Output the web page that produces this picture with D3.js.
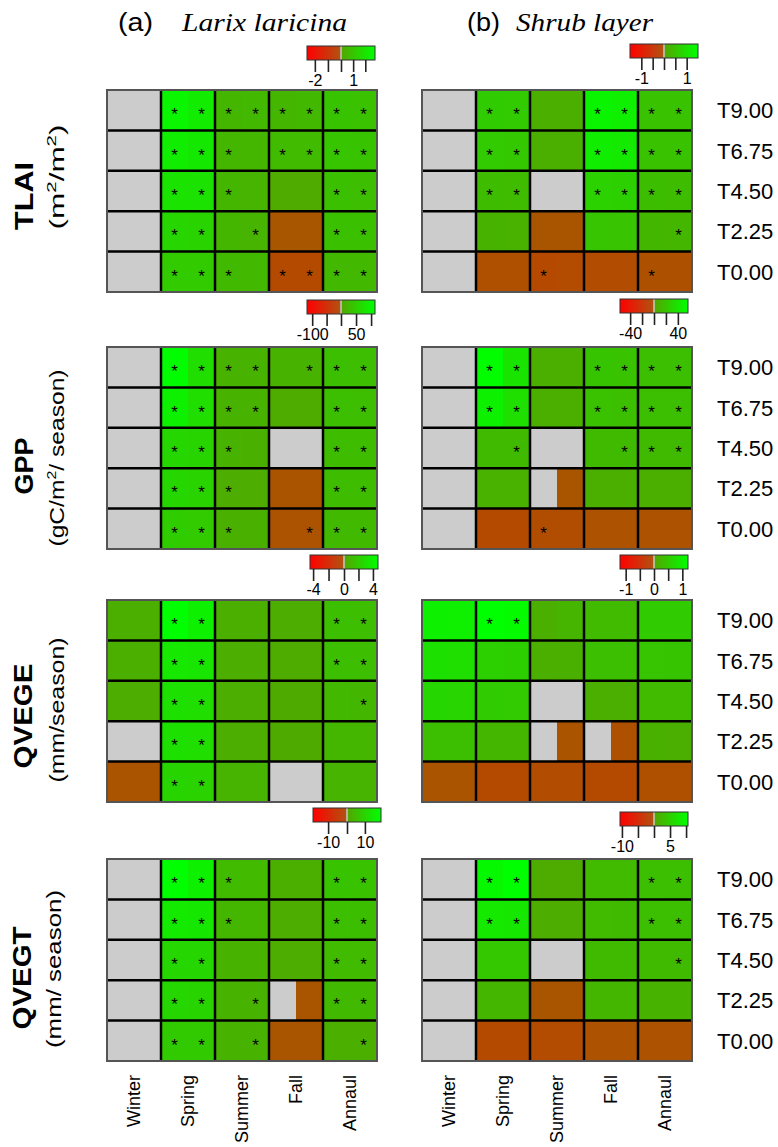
<!DOCTYPE html>
<html>
<head>
<meta charset="utf-8">
<script src="https://cdn.jsdelivr.net/npm/d3@7"></script>
<style>
  body { margin: 0; background: #fff; }
  text { font-family: "Liberation Sans", Arial, sans-serif; }
</style>
</head>
<body>
<div id="chart"></div>
<script>
var N = null;

var seasons = ["Winter", "Spring", "Summer", "Fall", "Annaul"];
var treatments = ["T9.00", "T6.75", "T4.50", "T2.25", "T0.00"];

// each row = one treatment, 10 values = 2 sub-cells per season
var tlaiLarix = [
  [N, N, 2.5, 2.2, 0.55, 0.6, 0.55, 0.6, 0.95, 0.9],
  [N, N, 2.25, 2.1, 0.55, 0.55, 0.7, 0.7, 1.0, 0.95],
  [N, N, 1.95, 1.9, 0.55, 0.5, 0.2, 0.2, 0.85, 0.8],
  [N, N, 1.5, 1.45, 0.55, 0.5, -0.05, -0.05, 0.85, 0.85],
  [N, N, 1.2, 1.2, 0.65, 0.6, -0.4, -0.4, 0.6, 0.6]
];
var tlaiLarixSig = [
  [0, 0, 1, 1, 1, 1, 1, 1, 1, 1],
  [0, 0, 1, 1, 1, 0, 1, 1, 1, 1],
  [0, 0, 1, 1, 1, 0, 0, 0, 1, 1],
  [0, 0, 1, 1, 0, 1, 0, 0, 1, 1],
  [0, 0, 1, 1, 1, 0, 1, 1, 1, 1]
];
var tlaiShrub = [
  [N, N, 0.65, 0.62, 0.18, 0.18, 1.32, 1.25, 0.5, 0.5],
  [N, N, 0.62, 0.6, 0.18, 0.2, 1.2, 1.15, 0.5, 0.5],
  [N, N, 0.4, 0.38, N, N, 0.75, 0.72, 0.42, 0.4],
  [N, N, 0.25, 0.22, -0.05, -0.05, 0.55, 0.52, 0.32, 0.3],
  [N, N, -0.15, -0.15, -0.25, -0.22, -0.2, -0.2, -0.12, -0.12]
];
var tlaiShrubSig = [
  [0, 0, 1, 1, 0, 0, 1, 1, 1, 1],
  [0, 0, 1, 1, 0, 0, 1, 1, 1, 1],
  [0, 0, 1, 1, 0, 0, 1, 1, 1, 1],
  [0, 0, 0, 0, 0, 0, 0, 0, 0, 1],
  [0, 0, 0, 0, 1, 0, 0, 0, 1, 0]
];
var gppLarix = [
  [N, N, 110, 72, 17, 17, 17, 17, 34, 32],
  [N, N, 96, 72, 17, 17, 9, 9, 34, 32],
  [N, N, 62, 60, 17, 15, N, N, 30, 30],
  [N, N, 62, 58, 11, 11, -5, -5, 30, 30],
  [N, N, 50, 48, 15, 15, -7, -7, 26, 26]
];
var gppLarixSig = [
  [0, 0, 1, 1, 1, 1, 0, 1, 1, 1],
  [0, 0, 1, 1, 1, 1, 0, 0, 1, 1],
  [0, 0, 1, 1, 1, 0, 0, 0, 1, 1],
  [0, 0, 1, 1, 1, 0, 0, 0, 1, 1],
  [0, 0, 1, 1, 1, 0, 0, 1, 1, 1]
];
var gppShrub = [
  [N, N, 56, 40, 7, 7, 20, 19, 17, 17],
  [N, N, 48, 37, 7, 7, 18, 17, 17, 17],
  [N, N, 14, 14, N, N, 14, 14, 14, 14],
  [N, N, 8, 8, N, -2, 7, 7, 7, 7],
  [N, N, -9, -9, -7, -7, -4, -4, -4, -4]
];
var gppShrubSig = [
  [0, 0, 1, 1, 0, 0, 1, 1, 1, 1],
  [0, 0, 1, 1, 0, 0, 1, 1, 1, 1],
  [0, 0, 0, 1, 0, 0, 0, 1, 1, 1],
  [0, 0, 0, 0, 0, 0, 0, 0, 0, 0],
  [0, 0, 0, 0, 1, 0, 0, 0, 0, 0]
];
var qvegeLarix = [
  [0.55, 0.55, 4.7, 4.0, 0.55, 0.55, 0.47, 0.47, 1.4, 1.35],
  [0.55, 0.55, 3.5, 3.4, 0.5, 0.5, 0.38, 0.38, 1.4, 1.35],
  [0.47, 0.47, 3.1, 3.0, 0.5, 0.5, 0.33, 0.33, 1.05, 1.0],
  [N, N, 3.1, 3.0, 0.5, 0.5, 0.33, 0.33, 0.95, 0.95],
  [-0.18, -0.18, 2.5, 2.4, 0.85, 0.85, N, N, 0.85, 0.85]
];
var qvegeLarixSig = [
  [0, 0, 1, 1, 0, 0, 0, 0, 1, 1],
  [0, 0, 1, 1, 0, 0, 0, 0, 1, 1],
  [0, 0, 1, 1, 0, 0, 0, 0, 0, 1],
  [0, 0, 1, 1, 0, 0, 0, 0, 0, 0],
  [0, 0, 1, 1, 0, 0, 0, 0, 0, 0]
];
var qvegeShrub = [
  [1.02, 1.0, 1.2, 1.15, 0.14, 0.22, 0.3, 0.3, 0.52, 0.52],
  [0.8, 0.78, 0.58, 0.56, 0.14, 0.16, 0.36, 0.36, 0.44, 0.42],
  [0.66, 0.64, 0.52, 0.5, N, N, 0.14, 0.15, 0.3, 0.3],
  [0.36, 0.36, 0.24, 0.24, N, -0.05, N, -0.1, 0.16, 0.15],
  [-0.05, -0.05, -0.19, -0.19, -0.16, -0.16, -0.19, -0.19, -0.12, -0.12]
];
var qvegeShrubSig = [
  [0, 0, 1, 1, 0, 0, 0, 0, 0, 0],
  [0, 0, 0, 0, 0, 0, 0, 0, 0, 0],
  [0, 0, 0, 0, 0, 0, 0, 0, 0, 0],
  [0, 0, 0, 0, 0, 0, 0, 0, 0, 0],
  [0, 0, 0, 0, 0, 0, 0, 0, 0, 0]
];
var qvegtLarix = [
  [N, N, 19, 16, 4.8, 4.5, 2.3, 2.3, 6.5, 6.3],
  [N, N, 14.5, 14, 3.8, 3.8, 1.9, 1.9, 5.7, 5.5],
  [N, N, 10.5, 10.5, 2.9, 2.9, 1.9, 1.9, 4.8, 4.8],
  [N, N, 10.5, 10, 2.9, 2.9, N, -0.7, 4.4, 4.4],
  [N, N, 8, 8, 2.9, 2.9, -0.7, -0.7, 2.3, 2.3]
];
var qvegtLarixSig = [
  [0, 0, 1, 1, 1, 0, 0, 0, 1, 1],
  [0, 0, 1, 1, 1, 0, 0, 0, 1, 1],
  [0, 0, 1, 1, 0, 0, 0, 0, 1, 1],
  [0, 0, 1, 1, 0, 1, 0, 0, 1, 1],
  [0, 0, 1, 1, 0, 1, 0, 0, 0, 1]
];
var qvegtShrub = [
  [N, N, 9.8, 10.6, 0.85, 0.85, 2.65, 2.65, 3.2, 3.2],
  [N, N, 8, 7.8, 1.05, 1.05, 2.65, 2.6, 3.2, 3.1],
  [N, N, 4.2, 4.2, N, N, 2.6, 2.6, 2.6, 2.6],
  [N, N, 2.1, 2.1, -0.4, -0.4, 2.1, 2.1, 1.6, 1.6],
  [N, N, -1.7, -1.7, -1.5, -1.5, -0.75, -0.75, -0.75, -0.75]
];
var qvegtShrubSig = [
  [0, 0, 1, 1, 0, 0, 0, 0, 1, 1],
  [0, 0, 1, 1, 0, 0, 0, 0, 1, 1],
  [0, 0, 0, 0, 0, 0, 0, 0, 0, 1],
  [0, 0, 0, 0, 0, 0, 0, 0, 0, 0],
  [0, 0, 0, 0, 0, 0, 0, 0, 0, 0]
];

// colour key domains [min, 0, max], tick values and which ticks get a label
var keyDomains = [[-2.6, 0, 2.8], [-1.5, 0, 1.5], [-118, 0, 113], [-57, 0, 57],
                  [-4.4, 0, 4.7], [-1.2, 0, 1.2], [-18, 0, 19], [-10.6, 0, 10.6]];
var keyTicks = [[-2, -1, 0, 1, 2], [-1, -0.5, 0, 0.5, 1], [-100, -50, 0, 50, 100], [-40, -20, 0, 20, 40],
                [-4, -2, 0, 2, 4], [-1, -0.5, 0, 0.5, 1], [-10, 0, 10], [-10, -5, 0, 5, 10]];
var keyLabels = [[-2, 1], [-1, 1], [-100, 50], [-40, 40],
                 [-4, 0, 4], [-1, 0, 1], [-10, 10], [-10, 5]];

var variables = ["TLAI", "GPP", "QVEGE", "QVEGT"];

var panels = [
  { vals: tlaiLarix, sig: tlaiLarixSig }, { vals: tlaiShrub, sig: tlaiShrubSig },
  { vals: gppLarix, sig: gppLarixSig }, { vals: gppShrub, sig: gppShrubSig },
  { vals: qvegeLarix, sig: qvegeLarixSig }, { vals: qvegeShrub, sig: qvegeShrubSig },
  { vals: qvegtLarix, sig: qvegtLarixSig }, { vals: qvegtShrub, sig: qvegtShrubSig }
];

// layout
var width = 778, height = 1147;
var colX = [107, 422], rowY = [90, 347, 600, 859];
var panelW = 270, panelH = 202;
var keyX = [307, 630, 307, 620, 310, 620, 313, 620];
var keyY = [46, 44, 300, 299, 555, 555, 808, 812];
var keyW = 68, keyH = 14;

var svg = d3.select("#chart").append("svg")
  .attr("width", width)
  .attr("height", height);

var defs = svg.append("defs");
var gNeg = defs.append("linearGradient").attr("id", "gNeg");
gNeg.append("stop").attr("offset", "0%").attr("stop-color", "#ff0000");
gNeg.append("stop").attr("offset", "100%").attr("stop-color", "#b05410");
var gPos = defs.append("linearGradient").attr("id", "gPos");
gPos.append("stop").attr("offset", "0%").attr("stop-color", "#55a400");
gPos.append("stop").attr("offset", "100%").attr("stop-color", "#00ff00");

function makeColor(dom) {
  var neg = d3.scaleLinear().domain([dom[0], 0]).range(["#ff0000", "#a65800"]);
  var pos = d3.scaleLinear().domain([0, dom[2]]).range(["#55a400", "#00ff00"]);
  return function (v) {
    if (v === null) return "#cccccc";
    return v < 0 ? neg(v) : pos(v);
  };
}

panels.forEach(function (p, k) {
  var col = k % 2, row = Math.floor(k / 2);
  var left = colX[col], top = rowY[row];
  var color = makeColor(keyDomains[k]);

  var x = d3.scaleBand().domain(d3.range(10)).range([left, left + panelW]);
  var y = d3.scaleBand().domain(d3.range(5)).range([top, top + panelH]);

  var g = svg.append("g").attr("class", "panel");

  var cells = [];
  p.vals.forEach(function (r, i) {
    r.forEach(function (v, j) { cells.push({ r: i, c: j, v: v, s: p.sig[i][j] }); });
  });

  g.selectAll("rect.cell")
    .data(cells)
    .enter().append("rect")
    .attr("class", "cell")
    .attr("x", function (d) { return x(d.c); })
    .attr("y", function (d) { return y(d.r); })
    .attr("width", x.bandwidth() + 0.5)
    .attr("height", y.bandwidth() + 0.5)
    .attr("shape-rendering", "crispEdges")
    .style("fill", function (d) { return color(d.v); });

  // season / treatment separators
  g.selectAll("line.vs")
    .data([2, 4, 6, 8])
    .enter().append("line")
    .attr("x1", function (d) { return x(d); })
    .attr("x2", function (d) { return x(d); })
    .attr("y1", top).attr("y2", top + panelH)
    .attr("stroke", "#000").attr("stroke-width", 2.5);
  g.selectAll("line.hs")
    .data([1, 2, 3, 4])
    .enter().append("line")
    .attr("y1", function (d) { return y(d); })
    .attr("y2", function (d) { return y(d); })
    .attr("x1", left).attr("x2", left + panelW)
    .attr("stroke", "#000").attr("stroke-width", 2.5);
  g.append("rect")
    .attr("x", left).attr("y", top)
    .attr("width", panelW).attr("height", panelH)
    .attr("fill", "none")
    .attr("stroke", "#555").attr("stroke-width", 2);

  g.selectAll("text.star")
    .data(cells.filter(function (d) { return d.s; }))
    .enter().append("text")
    .attr("class", "star")
    .attr("x", function (d) { return x(d.c) + x.bandwidth() / 2; })
    .attr("y", function (d) { return y(d.r) + y.bandwidth() / 2 + 10; })
    .attr("text-anchor", "middle")
    .style("font-size", "17px")
    .text("*");

  // colour key
  var kx = keyX[k], ky = keyY[k];
  var key = svg.append("g").attr("class", "key");
  key.append("rect").attr("x", kx).attr("y", ky).attr("width", keyW / 2).attr("height", keyH)
    .attr("fill", "url(#gNeg)");
  key.append("rect").attr("x", kx + keyW / 2).attr("y", ky).attr("width", keyW / 2).attr("height", keyH)
    .attr("fill", "url(#gPos)");
  key.append("line").attr("x1", kx + keyW / 2).attr("x2", kx + keyW / 2)
    .attr("y1", ky).attr("y2", ky + keyH).attr("stroke", "#c8c8c8").attr("stroke-width", 1.5);
  key.append("rect").attr("x", kx).attr("y", ky).attr("width", keyW).attr("height", keyH)
    .attr("fill", "none").attr("stroke", "#333").attr("stroke-width", 1);

  var ks = d3.scaleLinear().domain(keyDomains[k]).range([kx, kx + keyW / 2, kx + keyW]);
  var labs = keyLabels[k];
  var keyAxis = d3.axisBottom(ks)
    .tickValues(keyTicks[k])
    .tickSize(12)
    .tickPadding(3)
    .tickFormat(function (d) { return labs.indexOf(d) >= 0 ? d : ""; });
  var ka = key.append("g")
    .attr("transform", "translate(0," + (ky + keyH) + ")")
    .call(keyAxis);
  ka.select(".domain").remove();
  ka.selectAll(".tick line").attr("stroke", "#222").attr("stroke-width", 1.6);
  ka.selectAll(".tick text").style("font-size", "16px").attr("fill", "#000")
    .style("font-family", "'Liberation Sans', Arial, sans-serif");

  // treatment labels on the right of the shrub column
  if (col === 1) {
    var yt = d3.scaleBand().domain(treatments).range([top, top + panelH]);
    var ra = svg.append("g")
      .attr("transform", "translate(" + (left + panelW) + ",0)")
      .call(d3.axisRight(yt).tickSize(0).tickPadding(25));
    ra.select(".domain").remove();
    ra.selectAll("text").style("font-size", "22px").attr("fill", "#000").attr("dy", "0.36em")
      .style("font-family", "'Liberation Sans', Arial, sans-serif");
  }

  // season labels under the bottom panels
  if (row === 3) {
    var xs = d3.scaleBand().domain(seasons).range([left, left + panelW]);
    var ba = svg.append("g")
      .attr("transform", "translate(0," + (top + panelH) + ")")
      .call(d3.axisBottom(xs).tickSize(0));
    ba.select(".domain").remove();
    ba.selectAll("text")
      .attr("transform", "rotate(-90)")
      .attr("x", -14).attr("y", 0).attr("dy", "0.35em")
      .attr("text-anchor", "end")
      .attr("fill", "#000")
      .style("font-size", "18px")
      .style("font-family", "'Liberation Sans', Arial, sans-serif");
  }
});

// variable names and units on the left
var varPos = [[33, 196, 68], [33, 466, 57], [32, 716, 105], [31, 978, 103]];
var unitPos = [[64, 177, 105], [64, 458, 177], [64, 710, 145], [61, 969, 158]];
var units = [
  [["(m", 0], ["2", 1], ["/m", 0], ["2", 1], [")", 0]],
  [["(gC/m", 0], ["2", 1], ["/ season)", 0]],
  [["(mm/season)", 0]],
  [["(mm/ season)", 0]]
];

variables.forEach(function (v, i) {
  svg.append("text")
    .attr("transform", "translate(" + varPos[i][0] + "," + varPos[i][1] + ") rotate(-90)")
    .attr("text-anchor", "middle")
    .attr("textLength", varPos[i][2])
    .attr("lengthAdjust", "spacingAndGlyphs")
    .style("font-size", "25px")
    .style("font-weight", "bold")
    .text(v);

  var t = svg.append("text")
    .attr("transform", "translate(" + unitPos[i][0] + "," + unitPos[i][1] + ") rotate(-90)")
    .attr("text-anchor", "middle")
    .attr("textLength", unitPos[i][2])
    .attr("lengthAdjust", "spacingAndGlyphs")
    .style("font-size", "20px");
  var prevSup = 0;
  units[i].forEach(function (part) {
    var dy = part[1] ? -8 : (prevSup ? 8 : 0);
    t.append("tspan")
      .attr("dy", dy)
      .style("font-size", part[1] ? "13px" : "20px")
      .text(part[0]);
    prevSup = part[1];
  });
});

// column titles
var titles = [["(a)", "Larix laricina"], ["(b)", "Shrub layer"]];
var titleX = [[118, 182], [467, 516]];
var titleW = [[35, 165], [33, 137]];
titles.forEach(function (tt, i) {
  svg.append("text")
    .attr("x", titleX[i][0]).attr("y", 31)
    .attr("textLength", titleW[i][0])
    .attr("lengthAdjust", "spacingAndGlyphs")
    .style("font-size", "26px")
    .text(tt[0]);
  svg.append("text")
    .attr("x", titleX[i][1]).attr("y", 31)
    .attr("textLength", titleW[i][1])
    .attr("lengthAdjust", "spacingAndGlyphs")
    .style("font-size", "25px")
    .style("font-style", "italic")
    .style("font-family", "'Liberation Serif', 'Times New Roman', serif")
    .text(tt[1]);
});
</script>
</body>
</html>
